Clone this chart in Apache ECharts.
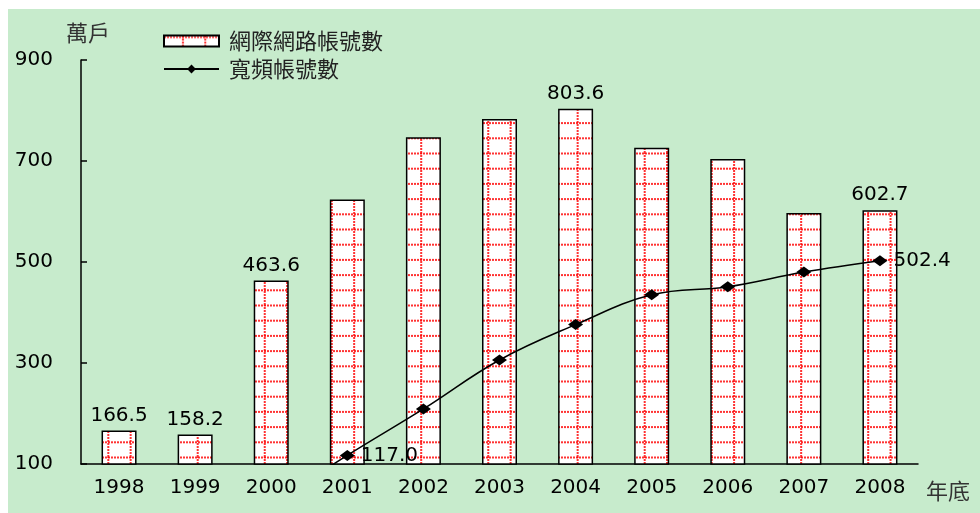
<!DOCTYPE html>
<html>
<head>
<meta charset="utf-8">
<script src="https://cdn.jsdelivr.net/npm/echarts@6/dist/echarts.min.js"></script>
<style>
html,body{margin:0;padding:0;background:#fff;}
#chart{width:980px;height:513px;}
</style>
</head>
<body>
<div id="chart"></div>
<script>
// ---- data ----
const categories = ['1998','1999','2000','2001','2002','2003','2004','2005','2006','2007','2008'];
const internetAccounts = [166.5, 158.2, 463.6, 624, 747, 783, 803.6, 726, 704, 597, 602.7];
const broadbandAccounts = [null, null, 20, 117.0, 209, 306, 376, 435, 451, 480, 502.4];
const barLabelYears = ['1998','1999','2000','2004','2008'];
const lineLabelYears = ['2001','2008'];
const hiddenSymbolYears = ['2000'];
const yTicks = [100, 300, 500, 700, 900];
const seriesNames = ['網際網路帳號數', '寬頻帳號數'];
const yAxisName = '萬戶';
const xAxisName = '年底';

// ---- styles ----
const GREEN = '#c7ebcc';
const NUM_FONT = 'DejaVu Sans';
const CJK_FONT = 'Noto Sans CJK TC';

function makePattern() {
  const w = 447, h = 76;
  const c = document.createElement('canvas');
  c.width = w; c.height = h;
  const g = c.getContext('2d');
  g.fillStyle = '#ffffff';
  g.fillRect(0, 0, w, h);
  g.fillStyle = 'rgba(255,0,0,0.8)';
  for (let k = 0; k < 5; k++) {
    const y = 1.5 + 15.2 * k - 1;
    for (let x = 0; x < w; x += 3) g.fillRect(x, y, 2, 2);
  }
  for (let k = 0; k < 20; k++) {
    const x = 18.9 + 22.35 * k - 1;
    for (let y = 0; y < h; y += 3) g.fillRect(x, y, 2, 2);
  }
  return c;
}
const pattern = { image: makePattern(), repeat: 'repeat' };

const barData = internetAccounts.map((v, i) => ({
  value: v,
  label: { show: barLabelYears.includes(categories[i]) }
}));
const lineData = broadbandAccounts.map((v, i) => {
  if (v === null) return '-';
  const item = { value: v, label: { show: lineLabelYears.includes(categories[i]) } };
  if (hiddenSymbolYears.includes(categories[i])) item.symbol = 'none';
  return item;
});

const chart = echarts.init(document.getElementById('chart'));
chart.setOption({
  animation: false,
  backgroundColor: '#ffffff',
  graphic: [{
    type: 'rect', silent: true, z: -100,
    shape: { x: 8, y: 9, width: 972, height: 504 },
    style: { fill: GREEN }
  }],
  legend: {
    orient: 'vertical',
    left: 163, top: 30, padding: 0,
    itemWidth: 55, itemHeight: 11, itemGap: 6,
    textStyle: { fontFamily: CJK_FONT, fontSize: 22, color: '#222', padding: [0, 0, 0, 5] },
    data: [{ name: seriesNames[0], icon: 'rect' }, { name: seriesNames[1] }]
  },
  grid: { left: 81, right: 62, top: 60, bottom: 49 },
  xAxis: {
    type: 'category',
    data: categories,
    axisLine: { lineStyle: { color: '#000', width: 1.5 } },
    axisTick: { inside: true, length: 5, lineStyle: { color: '#000', width: 1.5 } },
    axisLabel: { color: '#000', fontFamily: NUM_FONT, fontSize: 20, margin: 14 },
    name: xAxisName,
    nameLocation: 'end',
    nameGap: 8,
    nameTextStyle: { fontFamily: CJK_FONT, fontSize: 22, color: '#333', verticalAlign: 'top', padding: [16, 0, 0, 0] }
  },
  yAxis: {
    type: 'value',
    min: 100, max: 900,
    splitLine: { show: false },
    axisLine: { show: true, lineStyle: { color: '#000', width: 1.5 } },
    axisTick: { show: true, inside: true, length: 6, customValues: yTicks, lineStyle: { color: '#000', width: 1.5 } },
    axisLabel: { customValues: yTicks, color: '#000', fontFamily: NUM_FONT, fontSize: 20, margin: 28 },
    name: yAxisName,
    nameLocation: 'end',
    nameGap: 16,
    nameTextStyle: { fontFamily: CJK_FONT, fontSize: 22, color: '#333', align: 'center', padding: [0, 0, 0, 14] }
  },
  series: [
    {
      name: seriesNames[0],
      type: 'bar',
      barWidth: 35,
      data: barData,
      itemStyle: { color: pattern, borderColor: '#000', borderWidth: 1.5 },
      label: {
        position: 'top', distance: 5,
        color: '#000', fontFamily: NUM_FONT, fontSize: 20,
        formatter: p => Number(p.value).toFixed(1)
      },
      emphasis: { disabled: true }
    },
    {
      name: seriesNames[1],
      type: 'line',
      smooth: 0.4,
      z: 5,
      data: lineData,
      symbol: 'diamond',
      symbolSize: [15, 11],
      lineStyle: { color: '#000', width: 1.5 },
      itemStyle: { color: '#000' },
      label: {
        position: 'right', distance: 6,
        color: '#000', fontFamily: NUM_FONT, fontSize: 20,
        formatter: p => Number(p.value).toFixed(1)
      },
      emphasis: { disabled: true }
    }
  ]
});
</script>
</body>
</html>
